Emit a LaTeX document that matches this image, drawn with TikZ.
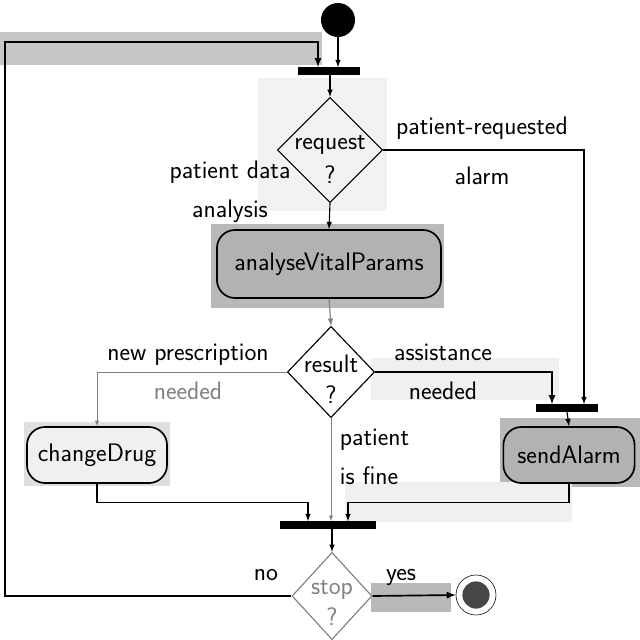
\documentclass[tikz,border=0pt]{standalone}
\usepackage{fontspec}
\usepackage{tikz}
\usetikzlibrary{shapes,backgrounds}
\usetikzlibrary{positioning,calc}
\tikzset{action/.style={draw=black, very thick, rectangle, rounded corners=0.45cm, minimum height=1.4cm, font=\sffamily\fontsize{18}{22}\selectfont}}
\tikzset{choice/.style={draw=black, thick, diamond, inner sep=0pt}}
\tikzset{forkbar/.style={fill=black, rectangle, inner sep=0pt, minimum height=0.18cm}}
\tikzset{guard/.style={font=\sffamily\fontsize{18}{28}\selectfont}}
\tikzset{flow/.style={->, >=latex, thick}}

\begin{document}
\begin{tikzpicture}[x=0.025cm, y=-0.025cm]
\useasboundingbox (0,0) rectangle (640,640);
\node[circle, fill=black, minimum size=0.85cm] (init) at (338,20) {};
\node[forkbar, minimum width=1.53cm] (fork1) at (329,71) {};
\node[choice, minimum width=2.63cm, minimum height=2.63cm, label={[guard, align=center, yshift=-7pt, font=\sffamily\fontsize{18}{24}\selectfont]center:request\\?}] (request) at (330,150) {};
\node[action, fill=gray!60, minimum width=5.6cm, minimum height=1.7cm] (analyse) at (329,264) {analyseVitalParams};
\node[choice, minimum width=2.18cm, minimum height=2.28cm, label={[guard, align=center, yshift=-5pt, font=\sffamily\fontsize{18}{22}\selectfont]center:result\\?}] (result) at (331,372) {};
\node[forkbar, minimum width=1.53cm] (fork2) at (567,408) {};
\node[action, fill=gray!12, minimum width=3.5cm] (change) at (97,455) {changeDrug};
\node[action, fill=gray!60, minimum width=3.28cm] (alarm) at (569,455) {sendAlarm};
\node[forkbar, minimum width=2.38cm] (join) at (328,525) {};
\node[choice, draw=gray, minimum width=2cm, minimum height=2.18cm, label={[guard, align=center, text=gray, yshift=-5pt, font=\sffamily\fontsize{18}{22}\selectfont]center:stop\\?}] (stop) at (332,596) {};
\node[circle, draw=black, thin, minimum size=1cm, path picture={\fill[gray!55!black] (path picture bounding box.center) circle (0.34cm);}] (final) at (476,595) {};
\coordinate (back) at (5,42);
\coordinate (loopx) at (318,0);

\node[guard] (lreq) at (482,128) {patient-requested};
\node[guard] (lalarm) at (482,176) {alarm};
\node[guard, align=center] (lpda) at (230,192) {patient data\\analysis};
\node[guard, align=center] (lnew) at (188,372) {new prescription\\{\color{gray}needed}};
\node[guard, align=center] (lassist) at (443,372) {assistance\\needed};
\node[guard, align=left, anchor=west] (lfine) at (335,457) {patient\\is fine};
\node[guard] (lno) at (266,575) {no};
\node[guard] (lyes) at (401,577) {yes};

\draw[flow] (init) -- (init |- fork1.north);
\draw[flow, very thick] (stop.west) -| (back) -| (loopx |- fork1.north);
\draw[flow] (fork1.south -| request) -- (request.north);
\draw[flow] (request.south) -- (analyse.north);
\draw[flow] (request.east) -| ($(fork2.north)+(17,0)$);
\draw[flow, gray] (analyse.south) -- (result.north);
\draw[flow, gray, thin] (result.west) -| (change.north);
\draw[flow, very thick] (result.east) -| ($(fork2.north)+(-15,0)$);
\draw[flow] (fork2.south) -- (alarm.north);
\draw[flow] (change.south) -- ++(0,19) -| ($(join.north)+(-20,0)$);
\draw[flow, gray, thin] (result.south) -- (result.south |- join.north);
\draw[flow] (alarm.south) -- ++(0,19) -| ($(join.north)+(20,0)$);
\draw[flow] (join.south -| stop.north) -- (stop.north);
\draw[flow, very thick] (stop.east) -- (final.west);

\begin{scope}[on background layer]
\fill[gray!45] (0,32) rectangle (322,65);
\fill[gray!10] (258,78) rectangle (387,211);
\fill[gray!55] (211,224) rectangle (444,308);
\fill[gray!12] (371,358) rectangle (559,400);
\fill[gray!25] (24,422) rectangle (170,486);
\fill[gray!55] (500,418) rectangle (640,487);
\fill[gray!12] (345,482) rectangle (572,522);
\fill[gray!55] (371,583) rectangle (451,612);
\end{scope}
\end{tikzpicture}
\end{document}
